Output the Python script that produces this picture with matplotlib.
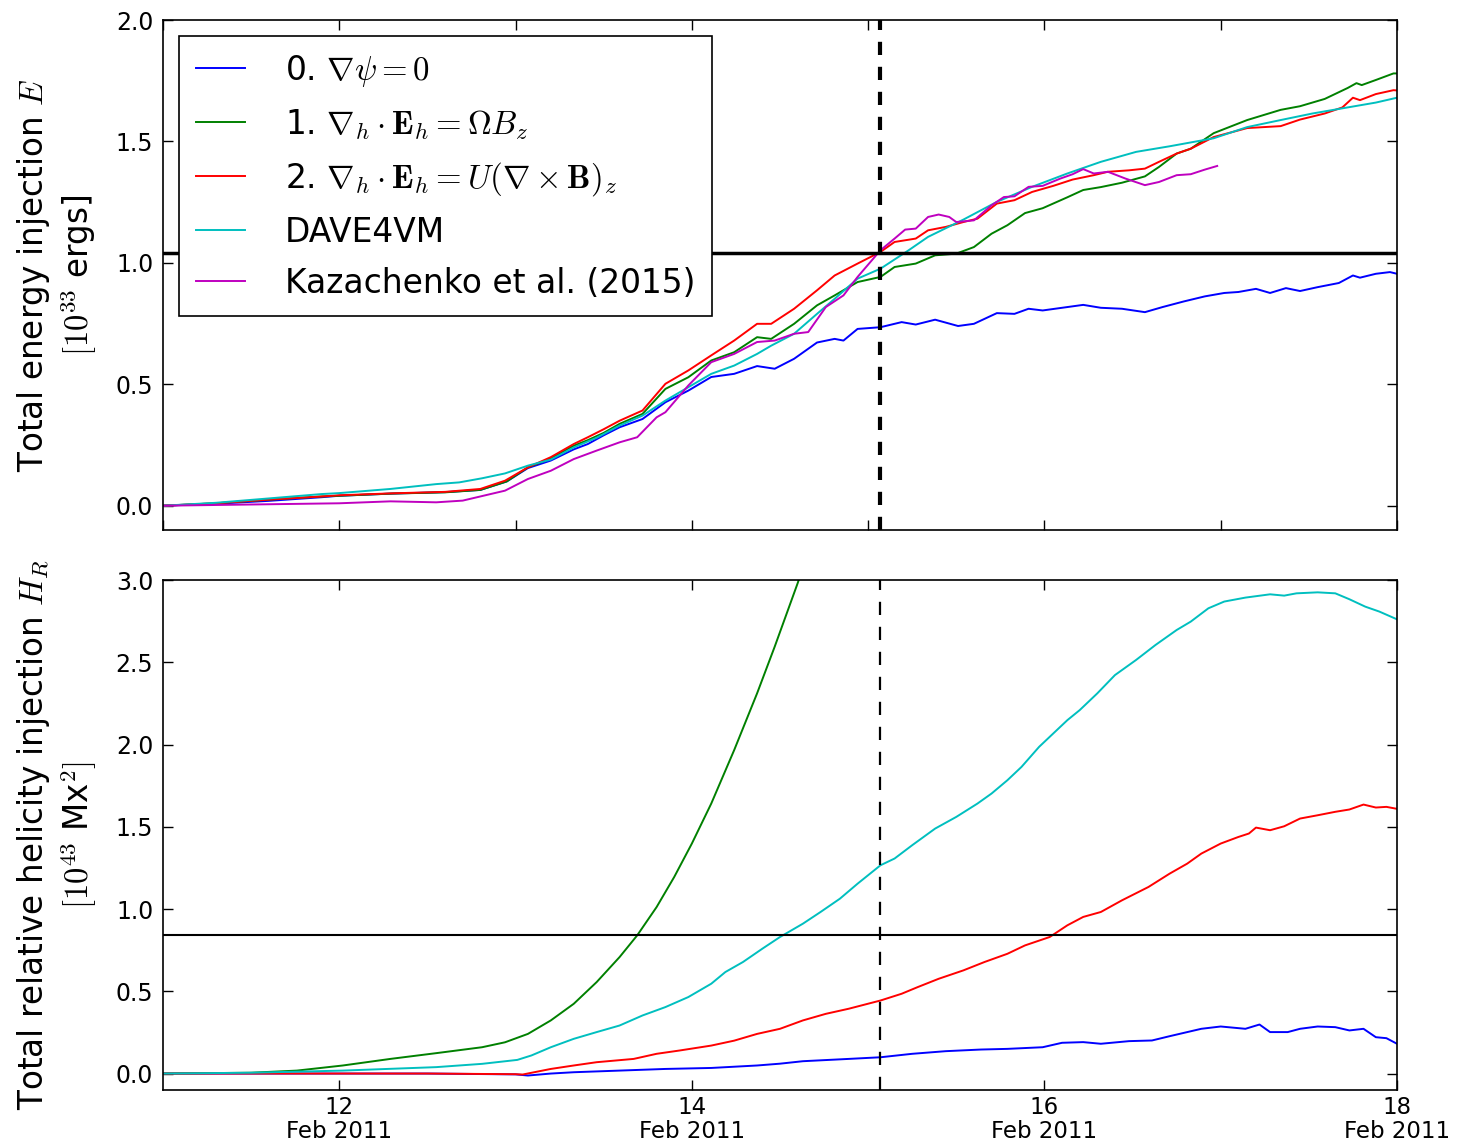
import matplotlib
matplotlib.use("Agg")
import matplotlib.pyplot as plt
import matplotlib.dates as mdates
from matplotlib.ticker import MultipleLocator, FormatStrFormatter
from datetime import datetime, timedelta

# ---------------------------------------------------------------
# Time is given as fractional day of February 2011
# ---------------------------------------------------------------
flare_day = 15.07

# Total energy injection E [1e33 erg]
E0_days = [11.0, 11.3, 11.6, 11.9, 12.0, 12.3, 12.6, 12.8, 12.95, 13.07, 13.2, 13.33, 13.41,
           13.5, 13.59, 13.72, 13.85, 13.98, 14.11, 14.24, 14.37, 14.47, 14.58, 14.71, 14.81,
           14.86, 14.94, 15.07, 15.19, 15.27, 15.38, 15.51, 15.6, 15.73, 15.83, 15.91, 15.99,
           16.13, 16.22, 16.32, 16.44, 16.57, 16.67, 16.79, 16.91, 17.02, 17.1, 17.2, 17.28,
           17.37, 17.45, 17.55, 17.67, 17.75, 17.79, 17.88, 17.96, 18.0]
E0_vals = [0.0, 0.008, 0.02, 0.035, 0.041, 0.05, 0.056, 0.065, 0.1, 0.155, 0.186, 0.232, 0.254,
           0.29, 0.323, 0.357, 0.426, 0.474, 0.53, 0.543, 0.575, 0.564, 0.605, 0.672, 0.687,
           0.68, 0.728, 0.735, 0.756, 0.746, 0.766, 0.74, 0.749, 0.793, 0.79, 0.811, 0.804,
           0.818, 0.827, 0.815, 0.811, 0.797, 0.818, 0.841, 0.862, 0.876, 0.88, 0.893, 0.876,
           0.896, 0.884, 0.9, 0.917, 0.948, 0.939, 0.955, 0.962, 0.955]

E1_days = [11.0, 11.3, 11.6, 11.9, 12.0, 12.3, 12.6, 12.8, 12.95, 13.07, 13.2, 13.33, 13.41,
           13.5, 13.59, 13.72, 13.85, 13.98, 14.11, 14.24, 14.37, 14.45, 14.58, 14.71, 14.81,
           14.94, 15.07, 15.15, 15.27, 15.38, 15.5, 15.6, 15.7, 15.79, 15.89, 15.99, 16.13,
           16.22, 16.32, 16.44, 16.57, 16.65, 16.75, 16.83, 16.96, 17.15, 17.34, 17.45, 17.59,
           17.72, 17.77, 17.8, 17.88, 17.98, 18.0]
E1_vals = [0.0, 0.01, 0.025, 0.038, 0.041, 0.05, 0.055, 0.065, 0.1, 0.158, 0.195, 0.247, 0.27,
           0.3, 0.337, 0.378, 0.481, 0.529, 0.598, 0.632, 0.694, 0.687, 0.749, 0.825, 0.866,
           0.921, 0.942, 0.983, 0.997, 1.031, 1.038, 1.065, 1.12, 1.155, 1.205, 1.225, 1.27,
           1.3, 1.312, 1.33, 1.356, 1.395, 1.45, 1.47, 1.534, 1.588, 1.63, 1.645, 1.675,
           1.72, 1.74, 1.732, 1.753, 1.78, 1.78]

E2_days = [11.0, 11.3, 11.6, 11.9, 12.0, 12.3, 12.6, 12.8, 12.94, 13.07, 13.2, 13.33, 13.41,
           13.5, 13.59, 13.72, 13.85, 13.98, 14.11, 14.24, 14.37, 14.45, 14.58, 14.71, 14.81,
           14.94, 15.07, 15.15, 15.27, 15.34, 15.44, 15.54, 15.62, 15.73, 15.83, 15.93, 16.05,
           16.16, 16.28, 16.36, 16.48, 16.57, 16.65, 16.75, 16.83, 16.96, 17.15, 17.34, 17.45,
           17.59, 17.69, 17.75, 17.79, 17.88, 17.98, 18.0]
E2_vals = [0.0, 0.01, 0.025, 0.038, 0.043, 0.051, 0.057, 0.069, 0.103, 0.158, 0.2, 0.254, 0.282,
           0.315, 0.35, 0.392, 0.502, 0.557, 0.619, 0.68, 0.749, 0.749, 0.811, 0.887, 0.948,
           0.997, 1.045, 1.086, 1.1, 1.134, 1.148, 1.168, 1.182, 1.244, 1.258, 1.292, 1.317,
           1.343, 1.361, 1.375, 1.381, 1.388, 1.416, 1.45, 1.47, 1.518, 1.555, 1.563, 1.59,
           1.615, 1.64, 1.68, 1.67, 1.695, 1.711, 1.71]

ED_days = [11.0, 11.3, 11.6, 11.9, 12.0, 12.29, 12.55, 12.68, 12.81, 12.94, 13.07, 13.2, 13.33,
           13.46, 13.59, 13.72, 13.85, 13.98, 14.11, 14.24, 14.37, 14.45, 14.58, 14.71, 14.81,
           14.94, 15.07, 15.23, 15.34, 15.54, 15.73, 15.93, 16.13, 16.32, 16.52, 16.71, 16.96,
           17.15, 17.34, 17.52, 17.72, 17.88, 18.0]
ED_vals = [0.0, 0.012, 0.03, 0.048, 0.052, 0.069, 0.089, 0.096, 0.113, 0.133, 0.165, 0.19, 0.24,
           0.28, 0.33, 0.371, 0.433, 0.488, 0.543, 0.577, 0.625, 0.659, 0.708, 0.79, 0.852,
           0.935, 0.976, 1.052, 1.107, 1.178, 1.251, 1.313, 1.368, 1.416, 1.457, 1.48, 1.513,
           1.559, 1.588, 1.615, 1.64, 1.66, 1.68]

EK_days = [11.0, 11.5, 12.0, 12.29, 12.55, 12.7, 12.94, 13.07, 13.2, 13.33, 13.46, 13.59, 13.69,
           13.8, 13.85, 13.98, 14.11, 14.24, 14.37, 14.47, 14.58, 14.66, 14.76, 14.86, 14.94,
           15.07, 15.15, 15.21, 15.27, 15.34, 15.4, 15.46, 15.5, 15.6, 15.7, 15.77, 15.83,
           15.91, 15.99, 16.09, 16.16, 16.22, 16.28, 16.36, 16.46, 16.57, 16.65, 16.75, 16.83,
           16.91, 16.98]
EK_vals = [0.0, 0.005, 0.01, 0.018, 0.014, 0.021, 0.062, 0.11, 0.144, 0.192, 0.227, 0.261, 0.282,
           0.364, 0.385, 0.495, 0.591, 0.625, 0.674, 0.68, 0.708, 0.715, 0.818, 0.866, 0.942,
           1.052, 1.1, 1.137, 1.141, 1.189, 1.199, 1.189, 1.168, 1.175, 1.237, 1.271, 1.274,
           1.313, 1.317, 1.347, 1.365, 1.386, 1.368, 1.375, 1.347, 1.32, 1.333, 1.361, 1.365,
           1.384, 1.399]

E_flare_level = 1.04

# Total relative helicity injection H_R [1e43 Mx^2]
H0_days = [11.0, 12.0, 12.5, 13.0, 13.07, 13.2, 13.33, 13.59, 13.85, 14.11, 14.37, 14.5, 14.63,
           14.89, 15.07, 15.25, 15.44, 15.64, 15.79, 15.99, 16.1, 16.22, 16.32, 16.48, 16.61,
           16.71, 16.89, 17.0, 17.14, 17.22, 17.28, 17.38, 17.45, 17.55, 17.65, 17.73, 17.81,
           17.88, 17.94, 18.0]
H0_vals = [0.0, 0.0, 0.0, -0.005, -0.012, 0.0, 0.008, 0.018, 0.028, 0.034, 0.049, 0.06, 0.075,
           0.089, 0.099, 0.12, 0.136, 0.146, 0.15, 0.16, 0.187, 0.191, 0.181, 0.197, 0.201,
           0.227, 0.272, 0.286, 0.272, 0.298, 0.252, 0.252, 0.272, 0.286, 0.282, 0.262, 0.272,
           0.221, 0.215, 0.181]

H1_days = [11.0, 11.5, 11.76, 12.02, 12.29, 12.55, 12.81, 12.94, 13.07, 13.2, 13.33, 13.46,
           13.59, 13.69, 13.8, 13.9, 14.0, 14.11, 14.24, 14.37, 14.47, 14.6, 14.7]
H1_vals = [0.0, 0.005, 0.018, 0.049, 0.089, 0.124, 0.16, 0.19, 0.241, 0.323, 0.424, 0.556,
           0.708, 0.84, 1.012, 1.195, 1.398, 1.641, 1.966, 2.311, 2.595, 2.98, 3.3]

H2_days = [11.0, 12.0, 12.5, 13.0, 13.04, 13.2, 13.33, 13.46, 13.67, 13.8, 13.93, 14.11, 14.24,
           14.37, 14.5, 14.63, 14.76, 14.89, 15.07, 15.19, 15.28, 15.4, 15.54, 15.66, 15.79,
           15.89, 16.03, 16.13, 16.22, 16.32, 16.44, 16.59, 16.71, 16.81, 16.89, 17.0, 17.1,
           17.16, 17.2, 17.28, 17.36, 17.45, 17.55, 17.65, 17.73, 17.81, 17.88, 17.94, 18.0]
H2_vals = [0.0, 0.0, 0.0, -0.004, -0.006, 0.028, 0.049, 0.069, 0.089, 0.12, 0.14, 0.17, 0.2,
           0.241, 0.272, 0.323, 0.363, 0.394, 0.444, 0.485, 0.525, 0.576, 0.627, 0.678, 0.728,
           0.779, 0.83, 0.901, 0.952, 0.982, 1.053, 1.134, 1.215, 1.276, 1.337, 1.398, 1.438,
           1.459, 1.495, 1.479, 1.503, 1.55, 1.57, 1.591, 1.605, 1.635, 1.617, 1.621, 1.609]

HD_days = [11.0, 11.5, 12.02, 12.55, 12.81, 13.01, 13.09, 13.2, 13.33, 13.46, 13.59, 13.72,
           13.85, 13.98, 14.11, 14.19, 14.29, 14.4, 14.5, 14.63, 14.73, 14.84, 14.94, 15.07,
           15.15, 15.25, 15.38, 15.5, 15.62, 15.7, 15.79, 15.87, 15.97, 16.05, 16.13, 16.2,
           16.3, 16.4, 16.52, 16.63, 16.75, 16.83, 16.93, 17.02, 17.14, 17.28, 17.36, 17.43,
           17.55, 17.65, 17.73, 17.82, 17.9, 18.0]
HD_vals = [0.0, 0.005, 0.018, 0.039, 0.059, 0.083, 0.11, 0.16, 0.211, 0.252, 0.292, 0.353,
           0.404, 0.465, 0.546, 0.617, 0.678, 0.759, 0.83, 0.911, 0.982, 1.063, 1.154, 1.266,
           1.307, 1.388, 1.489, 1.56, 1.641, 1.702, 1.783, 1.864, 1.986, 2.067, 2.148, 2.209,
           2.311, 2.422, 2.514, 2.605, 2.696, 2.747, 2.828, 2.869, 2.893, 2.913, 2.905, 2.919,
           2.925, 2.919, 2.883, 2.838, 2.808, 2.761]

H_flare_level = 0.84

labels = [r"0. $\nabla\psi = 0$",
          r"1. $\nabla_h \cdot \mathbf{E}_h = \Omega B_z$",
          r"2. $\nabla_h \cdot \mathbf{E}_h = U(\nabla \times \mathbf{B})_z$",
          "DAVE4VM",
          "Kazachenko et al. (2015)"]
colors = ["b", "g", "r", "c", "m"]


def to_dates(days):
    return [datetime(2011, 2, 1) + timedelta(days=d - 1) for d in days]


plt.rcParams.update({
    "font.family": "DejaVu Sans",
    "mathtext.fontset": "cm",
    "xtick.direction": "in",
    "ytick.direction": "in",
    "xtick.top": True,
    "ytick.right": True,
    "xtick.major.size": 7,
    "ytick.major.size": 7,
    "xtick.major.width": 1.0,
    "ytick.major.width": 1.0,
    "xtick.minor.visible": False,
    "ytick.minor.visible": False,
    "xtick.labelsize": 16.5,
    "ytick.labelsize": 17,
    "axes.linewidth": 1.2,
    "lines.scale_dashes": False,
})

W, H = 1466, 1146
fig = plt.figure(figsize=(W / 100, H / 100), dpi=100)
left, width = 163 / W, 1234 / W
ax1 = fig.add_axes([left, 1 - 530 / H, width, 510 / H])
ax2 = fig.add_axes([left, 1 - 1090 / H, width, 510 / H])

t0, t1 = datetime(2011, 2, 11), datetime(2011, 2, 18)
flare = to_dates([flare_day])[0]

# --- energy panel ---
lw = 1.4
for d, v, c, lab in zip([E0_days, E1_days, E2_days, ED_days, EK_days],
                        [E0_vals, E1_vals, E2_vals, ED_vals, EK_vals], colors, labels):
    ax1.plot(to_dates(d), v, color=c, lw=lw, label=lab)
ax1.axhline(E_flare_level, color="k", lw=2.5)
ax1.axvline(flare, color="k", lw=3, ls="--", dashes=(9.5, 8.5))
ax1.set_xlim(t0, t1)
ax1.set_ylim(-0.1, 2.0)
ax1.xaxis.set_major_locator(mdates.DayLocator())
ax1.tick_params(axis="x", labelbottom=False)
ax1.yaxis.set_major_locator(MultipleLocator(0.5))
ax1.yaxis.set_major_formatter(FormatStrFormatter("%.1f"))
ax1.tick_params(axis="y", pad=7)
ax1.set_ylabel("Total energy injection $E$\n$[10^{33}$ ergs]", fontsize=23.5)
ax1.yaxis.set_label_coords(-0.052, 0.5)
leg = ax1.legend(loc="upper left", fontsize=23.7, frameon=True, fancybox=False,
                 edgecolor="black", framealpha=1, borderaxespad=0.5, borderpad=0.5,
                 handlelength=1.5, handletextpad=1.2, labelspacing=0.55)
leg.get_frame().set_linewidth(1.2)

# --- helicity panel ---
for d, v, c in zip([H0_days, H1_days, H2_days, HD_days],
                   [H0_vals, H1_vals, H2_vals, HD_vals], colors):
    ax2.plot(to_dates(d), v, color=c, lw=lw)
ax2.axhline(H_flare_level, color="k", lw=1.5)
ax2.axvline(flare, color="k", lw=1.6, ls="--", dashes=(9.5, 8.5))
ax2.set_xlim(t0, t1)
ax2.set_ylim(-0.1, 3.0)
ax2.xaxis.set_major_locator(mdates.DayLocator(bymonthday=[12, 14, 16, 18]))
ax2.xaxis.set_major_formatter(mdates.DateFormatter("%d\n%b %Y"))
ax2.tick_params(axis="x", pad=4)
for t in ax2.get_xticklabels():
    t.set_linespacing(1.1)
ax2.yaxis.set_major_locator(MultipleLocator(0.5))
ax2.yaxis.set_major_formatter(FormatStrFormatter("%.1f"))
ax2.tick_params(axis="y", pad=7)
ax2.set_ylabel("Total relative helicity injection $H_R$\n$[10^{43}$ Mx$^2]$", fontsize=23.5)
ax2.yaxis.set_label_coords(-0.052, 0.5)

fig.savefig("out.png", dpi=100)
